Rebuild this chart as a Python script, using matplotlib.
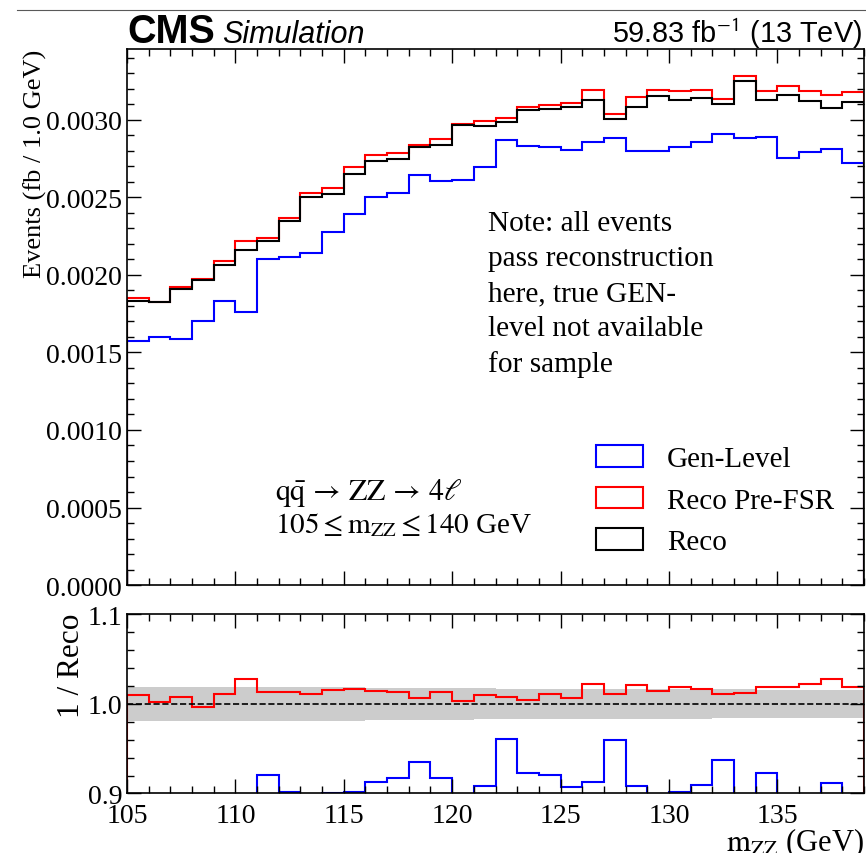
import numpy as np
import matplotlib
matplotlib.use("Agg")
import matplotlib.pyplot as plt
from matplotlib.ticker import MultipleLocator, FormatStrFormatter
from matplotlib.patches import Patch
from matplotlib.lines import Line2D


# bin edges in m_ZZ (GeV), 1 GeV bins
edges = np.arange(105, 140)

# main panel, events (fb / 1.0 GeV) per bin
gen_level = [0.001572, 0.001602, 0.001587, 0.001705, 0.001834, 0.001763,
             0.002103, 0.002114, 0.002142, 0.002275, 0.002396, 0.002501,
             0.002527, 0.002645, 0.002608, 0.002615, 0.002695, 0.002871,
             0.002834, 0.002826, 0.002804, 0.002856, 0.002884, 0.002800,
             0.002800, 0.002824, 0.002856, 0.002908, 0.002886, 0.002890,
             0.002757, 0.002792, 0.002813, 0.002720]
reco_prefsr = [0.001852, 0.001826, 0.001921, 0.001974, 0.002093, 0.002219,
               0.002239, 0.002368, 0.002529, 0.002561, 0.002695, 0.002776,
               0.002787, 0.002841, 0.002877, 0.002974, 0.002991, 0.003013,
               0.003082, 0.003097, 0.003108, 0.003194, 0.003039, 0.003148,
               0.003196, 0.003185, 0.003194, 0.003134, 0.003286, 0.003187,
               0.003219, 0.003189, 0.003161, 0.003181]
reco = [0.001834, 0.001826, 0.001910, 0.001970, 0.002067, 0.002160,
        0.002217, 0.002346, 0.002505, 0.002523, 0.002654, 0.002735,
        0.002750, 0.002826, 0.002839, 0.002968, 0.002959, 0.002987,
        0.003067, 0.003071, 0.003086, 0.003127, 0.003006, 0.003082,
        0.003153, 0.003131, 0.003142, 0.003103, 0.003252, 0.003127,
        0.003161, 0.003123, 0.003077, 0.003114]

# ratio panel, as drawn
ratio_prefsr = [1.0095, 1.0020, 1.0080, 0.9970, 1.0117, 1.0284, 1.0133, 1.0136,
                1.0117, 1.0155, 1.0167, 1.0148, 1.0136, 1.0068, 1.0136, 1.0034,
                1.0102, 1.0083, 1.0045, 1.0106, 1.0068, 1.0224, 1.0117, 1.0216,
                1.0140, 1.0186, 1.0167, 1.0106, 1.0121, 1.0190, 1.0193, 1.0224,
                1.0277, 1.0193]
ratio_gen = [0.857, 0.875, 0.830, 0.866, 0.887, 0.816, 0.9205, 0.902,
             0.885, 0.9008, 0.9012, 0.9129, 0.9178, 0.9356, 0.9178, 0.880,
             0.9083, 0.9606, 0.9227, 0.9208, 0.9076, 0.9133, 0.9602, 0.9083,
             0.890, 0.9015, 0.909, 0.9379, 0.890, 0.9227, 0.880, 0.885,
             0.9121, 0.885]
# half width of the grey band around 1
band_err = [0.0195, 0.0195, 0.0194, 0.0193, 0.0192, 0.0191, 0.0190, 0.0189,
            0.0188, 0.0187, 0.0185, 0.0183, 0.0181, 0.0179, 0.0177, 0.0175,
            0.0173, 0.0171, 0.0170, 0.0169, 0.0168, 0.0167, 0.0166, 0.0165,
            0.0164, 0.0163, 0.0163, 0.0162, 0.0162, 0.0161, 0.0161, 0.0160,
            0.0160, 0.0160]

labels = ["Gen-Level", "Reco Pre-FSR", "Reco"]
colors = ["blue", "red", "black"]

plt.rcParams['font.family'] = ['Liberation Serif', 'DejaVu Serif']
plt.rcParams['mathtext.fontset'] = 'stix'
plt.rcParams['axes.linewidth'] = 1.2

fig = plt.figure(figsize=(8.66, 8.54), dpi=100)
ax = fig.add_axes([0.1467, 0.3138, 0.8510, 0.6277])
rax = fig.add_axes([0.1467, 0.0697, 0.8510, 0.2096])

# main panel
for vals, lab, col in zip([gen_level, reco_prefsr, reco], labels, colors):
    ax.stairs(vals, edges, baseline=0, color=col, lw=1.5)

ax.set_xlim(105, 139)
ax.set_ylim(0, 0.003458)
ax.xaxis.set_major_locator(MultipleLocator(5))
ax.xaxis.set_minor_locator(MultipleLocator(1))
ax.yaxis.set_major_locator(MultipleLocator(0.0005))
ax.yaxis.set_minor_locator(MultipleLocator(0.0001))
ax.yaxis.set_major_formatter(FormatStrFormatter('%.4f'))
ax.tick_params(which='both', direction='in', top=True, right=True,
               labelbottom=False, labelsize=20, width=1)
ax.tick_params(which='major', length=10)
ax.tick_params(which='minor', length=5)
ax.set_ylabel("Events (fb / 1.0 GeV)", fontsize=19, loc='top')
ax.yaxis.set_label_coords(-0.109, 1.0)

handles = [Patch(facecolor='none', edgecolor=c, linewidth=1.5, label=l)
           for l, c in zip(labels, colors)]
ax.legend(handles=handles, loc='center left', bbox_to_anchor=(0.621, 0.158),
          borderaxespad=0, frameon=False, fontsize=21, handlelength=1.59,
          handleheight=0.76, handletextpad=0.83, labelspacing=0.5)

ax.text(0.49, 0.699, "Note: all events\npass reconstruction\nhere, true GEN-\n"
        "level not available\nfor sample", transform=ax.transAxes,
        fontsize=21.2, va='top', ha='left', linespacing=1.445)
ax.text(0.201, 0.1604,
        r"$\mathrm{q\bar{q}} \,\rightarrow\, \mathrm{ZZ} \,\rightarrow\, 4\ell$",
        transform=ax.transAxes, fontsize=21.5, va='baseline')
ax.text(0.201, 0.0989, r"$105 \leq \mathrm{m_{ZZ}} \leq 140$ GeV",
        transform=ax.transAxes, fontsize=21, va='baseline')

# header
ax.text(0.0, 1.013, "CMS", transform=ax.transAxes, fontsize=28.5,
        fontweight='bold', family='Liberation Sans', va='baseline')
ax.text(0.129, 1.013, "Simulation", transform=ax.transAxes, fontsize=22,
        style='italic', family='Liberation Sans', va='baseline')
ax.text(0.997, 1.013, r"59.83 fb$^{\mathsf{-1}}$ (13 TeV)", transform=ax.transAxes,
        fontsize=20.8, family='Liberation Sans', va='baseline', ha='right')

# ratio panel
band_lo = [1 - e for e in band_err]
band_hi = [1 + e for e in band_err]
rax.stairs(band_hi, edges, baseline=band_lo, fill=True, color='#cccccc', lw=0)
rax.axhline(1.0, color='black', ls='--', lw=1.2)
rax.stairs(ratio_gen, edges, baseline=0, color='blue', lw=1.5)
rax.stairs(ratio_prefsr, edges, baseline=0, color='red', lw=1.5)

rax.set_xlim(105, 139)
rax.set_ylim(0.9, 1.1)
rax.xaxis.set_major_locator(MultipleLocator(5))
rax.xaxis.set_minor_locator(MultipleLocator(1))
rax.yaxis.set_major_locator(MultipleLocator(0.1))
rax.yaxis.set_minor_locator(MultipleLocator(0.02))
rax.yaxis.set_major_formatter(FormatStrFormatter('%.1f'))
rax.tick_params(which='both', direction='in', top=True, right=True,
                labelsize=20, width=1)
rax.tick_params(axis='x', which='major', pad=7)
rax.tick_params(which='major', length=10)
rax.tick_params(which='minor', length=5)
rax.set_ylabel("1 / Reco", fontsize=22.5, loc='top')
rax.yaxis.set_label_coords(-0.056, 1.01)
rax.set_xlabel(r"$\mathrm{m_{ZZ}}$ (GeV)", fontsize=22, loc='right')
rax.xaxis.set_label_coords(1.0, -0.178)

# thin border line at the very top of the screenshot
fig.add_artist(Line2D([0.02, 1.0], [1 - 10.5 / 854] * 2, color='0.35', lw=0.8))

fig.savefig("out.png", dpi=100)
